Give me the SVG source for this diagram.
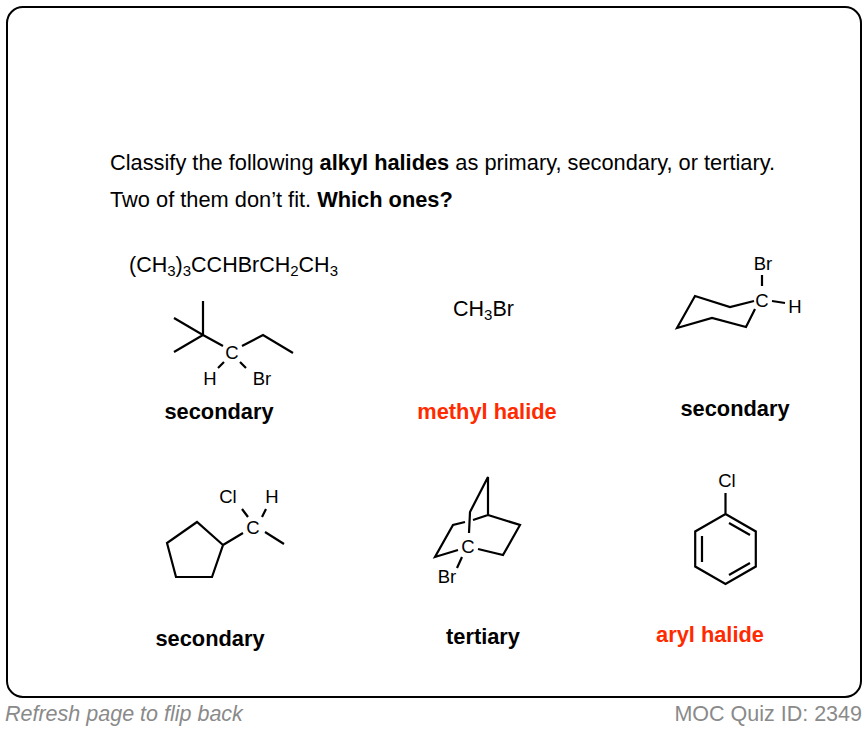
<svg xmlns="http://www.w3.org/2000/svg" width="868" height="730" viewBox="0 0 868 730">
<style>
text{font-family:"Liberation Sans",Arial,sans-serif;fill:#000}
.t{font-size:21.8px}
.a{font-size:21.5px}
.s{font-size:15px}
.at{font-size:18.5px;text-anchor:middle}
.lbl{font-size:21.8px;font-weight:bold;text-anchor:middle}
.red{fill:#ff2a00}
.foot{font-size:21.5px;fill:#8a8a8a}
.b{stroke:#000;stroke-width:2.2;fill:none;stroke-linejoin:miter;stroke-linecap:butt}
</style>
<rect x="0" y="0" width="868" height="730" fill="#fff"/>
<rect id="frame" x="7" y="7" width="854" height="690" rx="16" ry="16" fill="#fff" stroke="#000" stroke-width="2"/>
<g id="title">
<text class="t" x="110" y="170">Classify the following <tspan font-weight="bold">alkyl halides</tspan> as primary, secondary, or tertiary.</text>
<text class="t" x="110" y="207">Two of them don’t fit. <tspan font-weight="bold">Which ones?</tspan></text>
</g>
<g id="mol1">
<text class="a" x="129" y="272">(CH<tspan class="s" dy="4">3</tspan><tspan dy="-4">)</tspan><tspan class="s" dy="4">3</tspan><tspan dy="-4">CCHBrCH</tspan><tspan class="s" dy="4">2</tspan><tspan dy="-4">CH</tspan><tspan class="s" dy="4">3</tspan></text>
<path class="b" d="M203,301 L203,335 M174,318 L203,335 L174,352 M203,335 L223,346 M242,346 L263,335 L293,353 M224,362 L218,368 M240,362 L246,368"/>
<text class="at" x="232" y="359">C</text>
<text class="at" x="210" y="385">H</text>
<text class="at" x="262" y="385">Br</text>
<text class="lbl" x="219" y="419">secondary</text>
</g>
<g id="mol2">
<text class="a" x="453" y="316">CH<tspan class="s" dy="4">3</tspan><tspan dy="-4">Br</tspan></text>
<text class="lbl red" x="487" y="419">methyl halide</text>
</g>
<g id="mol3">
<text class="at" x="763" y="270">Br</text>
<text class="at" x="762" y="307">C</text>
<text class="at" x="795" y="313">H</text>
<path class="b" d="M762,275 L762,286 M772,301 L785,303 M754,301 L730,307 L695,296 L677,328 L712,318 L746,327 L755,309"/>
<text class="lbl" x="735" y="416">secondary</text>
</g>
<g id="mol4">
<text class="at" x="228" y="503">Cl</text>
<text class="at" x="272" y="503">H</text>
<text class="at" x="253" y="534">C</text>
<path class="b" d="M242,509 L248,517 M266,509 L262,517 M265,532 L284,544 M243,533 L223,545 M223,545 L197,522 L167,543 L176,577 L212,577 Z"/>
<text class="lbl" x="210" y="646">secondary</text>
</g>
<g id="mol5">
<path class="b" d="M488,515 L488,477 L470,512 L469,533 M488,515 L520,525 L503,555 L478,549 M488,515 L473,520 M465,522 L453,525 L435,557 L458,550 M462,557 L457,568"/>
<text class="at" x="468" y="553">C</text>
<text class="at" x="447" y="583">Br</text>
<text class="lbl" x="483" y="644">tertiary</text>
</g>
<g id="mol6">
<text class="at" x="727" y="487">Cl</text>
<path class="b" d="M725.5,493 L725.5,514 M725.5,514 L755.8,531.5 L755.8,566.5 L725.5,584 L695.2,566.5 L695.2,531.5 Z M702,536 L702,562 M729,523 L750,535 M729,575 L750,563"/>
<text class="lbl red" x="710" y="642">aryl halide</text>
</g>
<g id="footer">
<text class="foot" x="5" y="721" font-style="italic">Refresh page to flip back</text>
<text class="foot" x="862" y="721" text-anchor="end">MOC Quiz ID: 2349</text>
</g>
</svg>
